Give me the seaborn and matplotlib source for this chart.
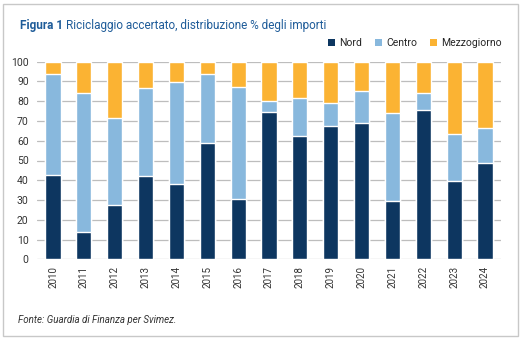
import matplotlib
matplotlib.use("Agg")
import matplotlib.pyplot as plt
from matplotlib import font_manager
from matplotlib.patches import Rectangle, Patch
import seaborn as sns
import pandas as pd
import numpy as np

years = ["2010", "2011", "2012", "2013", "2014", "2015", "2016", "2017",
         "2018", "2019", "2020", "2021", "2022", "2023", "2024"]
nord = [42.5, 13.8, 27.5, 42.2, 38.1, 58.9, 30.5, 74.5, 62.2, 67.5, 69.0, 29.7, 75.5, 39.6, 48.7]
centro = [51.3, 70.2, 44.2, 44.6, 51.6, 34.7, 56.9, 5.6, 19.3, 11.8, 16.0, 44.5, 8.5, 23.8, 17.9]
mezzogiorno = [round(100 - n - c, 1) for n, c in zip(nord, centro)]
series = ["Nord", "Centro", "Mezzogiorno"]
colors = ["#0D3660", "#88B8DD", "#FBB333"]

sns.set_theme(style="white")
names = {f.name for f in font_manager.fontManager.ttflist}
fam = "Roboto" if "Roboto" in names else "DejaVu Sans"
plt.rcParams["font.family"] = [fam, "DejaVu Sans"]

df = pd.DataFrame({"year": years, "Nord": nord, "Centro": centro, "Mezzogiorno": mezzogiorno})
df["c_nord"] = df["Nord"]
df["c_centro"] = df["Nord"] + df["Centro"]
df["c_mezz"] = df["c_centro"] + df["Mezzogiorno"]

fig = plt.figure(figsize=(5.24, 3.45), dpi=100)
ax = fig.add_axes([37 / 524, 1 - 259.3 / 345, (501 - 37) / 524, (259.3 - 61.7) / 345])

for col, c in [("c_mezz", colors[2]), ("c_centro", colors[1]), ("c_nord", colors[0])]:
    sns.barplot(data=df, x="year", y=col, color=c, width=0.49, ax=ax,
                saturation=1, zorder=3, errorbar=None)

ax.set_ylim(0, 100)
ax.set_xlim(-0.52, 14.52)
ax.set_yticks(range(0, 101, 10))
ax.yaxis.grid(True, color="#BDBDBD", linewidth=0.9, zorder=0)
ax.set_axisbelow(True)
for s in ax.spines.values():
    s.set_visible(False)
ax.set_xlabel("")
ax.set_ylabel("")
ax.tick_params(axis="both", length=0, labelcolor="#333333")
ax.tick_params(axis="y", labelsize=7.5, pad=6)
ax.tick_params(axis="x", labelsize=7, pad=5)
for lbl in ax.get_xticklabels():
    lbl.set_rotation(90)

t1 = fig.text(20 / 524, 1 - 26 / 345, "Figura 1", fontsize=8.5, color="#1F5C99",
              fontweight="bold", va="center", ha="left")
fig.canvas.draw()
bb = t1.get_window_extent(renderer=fig.canvas.get_renderer())
x2 = (bb.x1 + 3) / fig.bbox.width
fig.text(x2, 1 - 26 / 345, "Riciclaggio accertato, distribuzione % degli importi",
         fontsize=8.5, color="#1F5C99", va="center", ha="left")

handles = [Patch(facecolor=c, edgecolor="none") for c in colors]
fig.legend(handles, series, loc="center right", bbox_to_anchor=(502 / 524, 1 - 43 / 345),
           ncol=3, frameon=False, fontsize=7.5, handlelength=0.7, handleheight=0.7,
           columnspacing=1.2, handletextpad=0.4, borderpad=0, borderaxespad=0)

fig.text(18 / 524, 1 - 320 / 345, "Fonte: Guardia di Finanza per Svimez.", fontsize=7,
         style="italic", color="#333333", va="center", ha="left")

fig.patches.append(Rectangle((3 / 524, 1 - 336 / 345), 515 / 524, 332 / 345,
                             transform=fig.transFigure, fill=False,
                             edgecolor="#C8C8C8", linewidth=1.0))

fig.savefig("out.png", dpi=100)
